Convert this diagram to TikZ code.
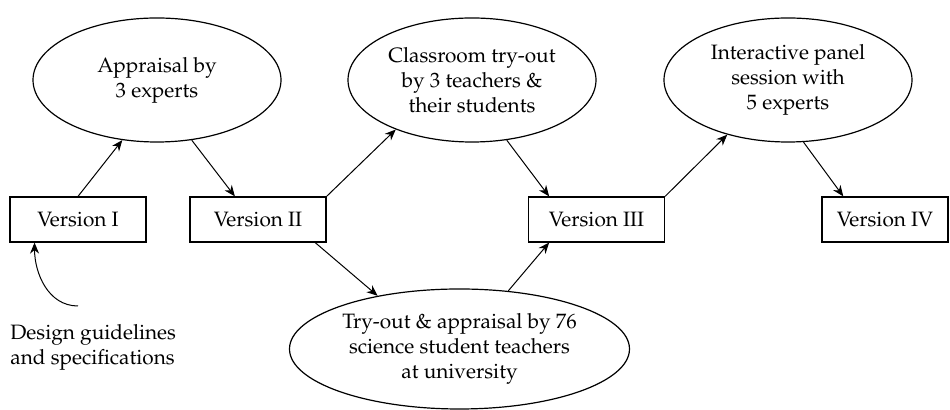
\documentclass[tikz,border=0pt]{standalone}
\usepackage[T1]{fontenc}
\usepackage{mathpazo}
\usetikzlibrary{shapes.geometric,arrows.meta}
\begin{document}
\begin{tikzpicture}[x=0.5pt,y=-0.5pt]
	\tikzstyle{every node}=[font=\fontsize{10.4}{12.5}\selectfont]
	\tikzstyle{version}=[draw, line width=0.6pt, minimum width=68pt, minimum height=22.5pt, inner sep=0pt]
	\tikzstyle{activity}=[draw, ellipse, line width=0.6pt, minimum width=124pt, minimum height=62pt, inner sep=0pt, align=center]
	\tikzstyle{flow}=[-{Stealth[length=5.5pt,width=4.5pt]}, line width=0.5pt]

	\useasboundingbox (0,0) rectangle (950,410);

	\node[version] (V1) at (78,219.5)	{Version I};
	\node[version] (V2) at (258,219.5)	{Version II};
	\node[version] (V3) at (596.5,219.5)	{Version III};
	\node[version, minimum width=63pt] (V4) at (885,219.5)	{Version IV};

	\node[activity] (E1) at (157,80)	{Appraisal by\\3 experts};
	\node[activity] (E2) at (472,80)	{Classroom try-out\\by 3 teachers \&\\their students};
	\node[activity] (E3) at (788,80)	{Interactive panel\\session with\\5 experts};
	\node[activity, minimum width=170pt, minimum height=60pt] (E4) at (459.5,349)	{Try-out \& appraisal by 76\\science student teachers\\at university};

	\node[align=left, anchor=north west, inner sep=0pt] (DG) at (10,324)	{Design guidelines\\and specifications};
	\coordinate (DGtail) at (78,306);

	\draw[flow] (V1.north) -- (E1.240);
	\draw[flow] (E1.300) -- (V2.135);

	\draw[flow] (V2.north east) -- (E2.213);
	\draw[flow] (E2.300) -- (V3.154);

	\draw[flow] (V2.338) -- (E4.147);
	\draw[flow] (E4.50) -- (V3.206);

	\draw[flow] (V3.north east) -- (E3.222);
	\draw[flow] (E3.284) -- (V4.151);

	\draw[flow] (DGtail) to[out=180, in=-90] (V1.208);
\end{tikzpicture}
\end{document}
